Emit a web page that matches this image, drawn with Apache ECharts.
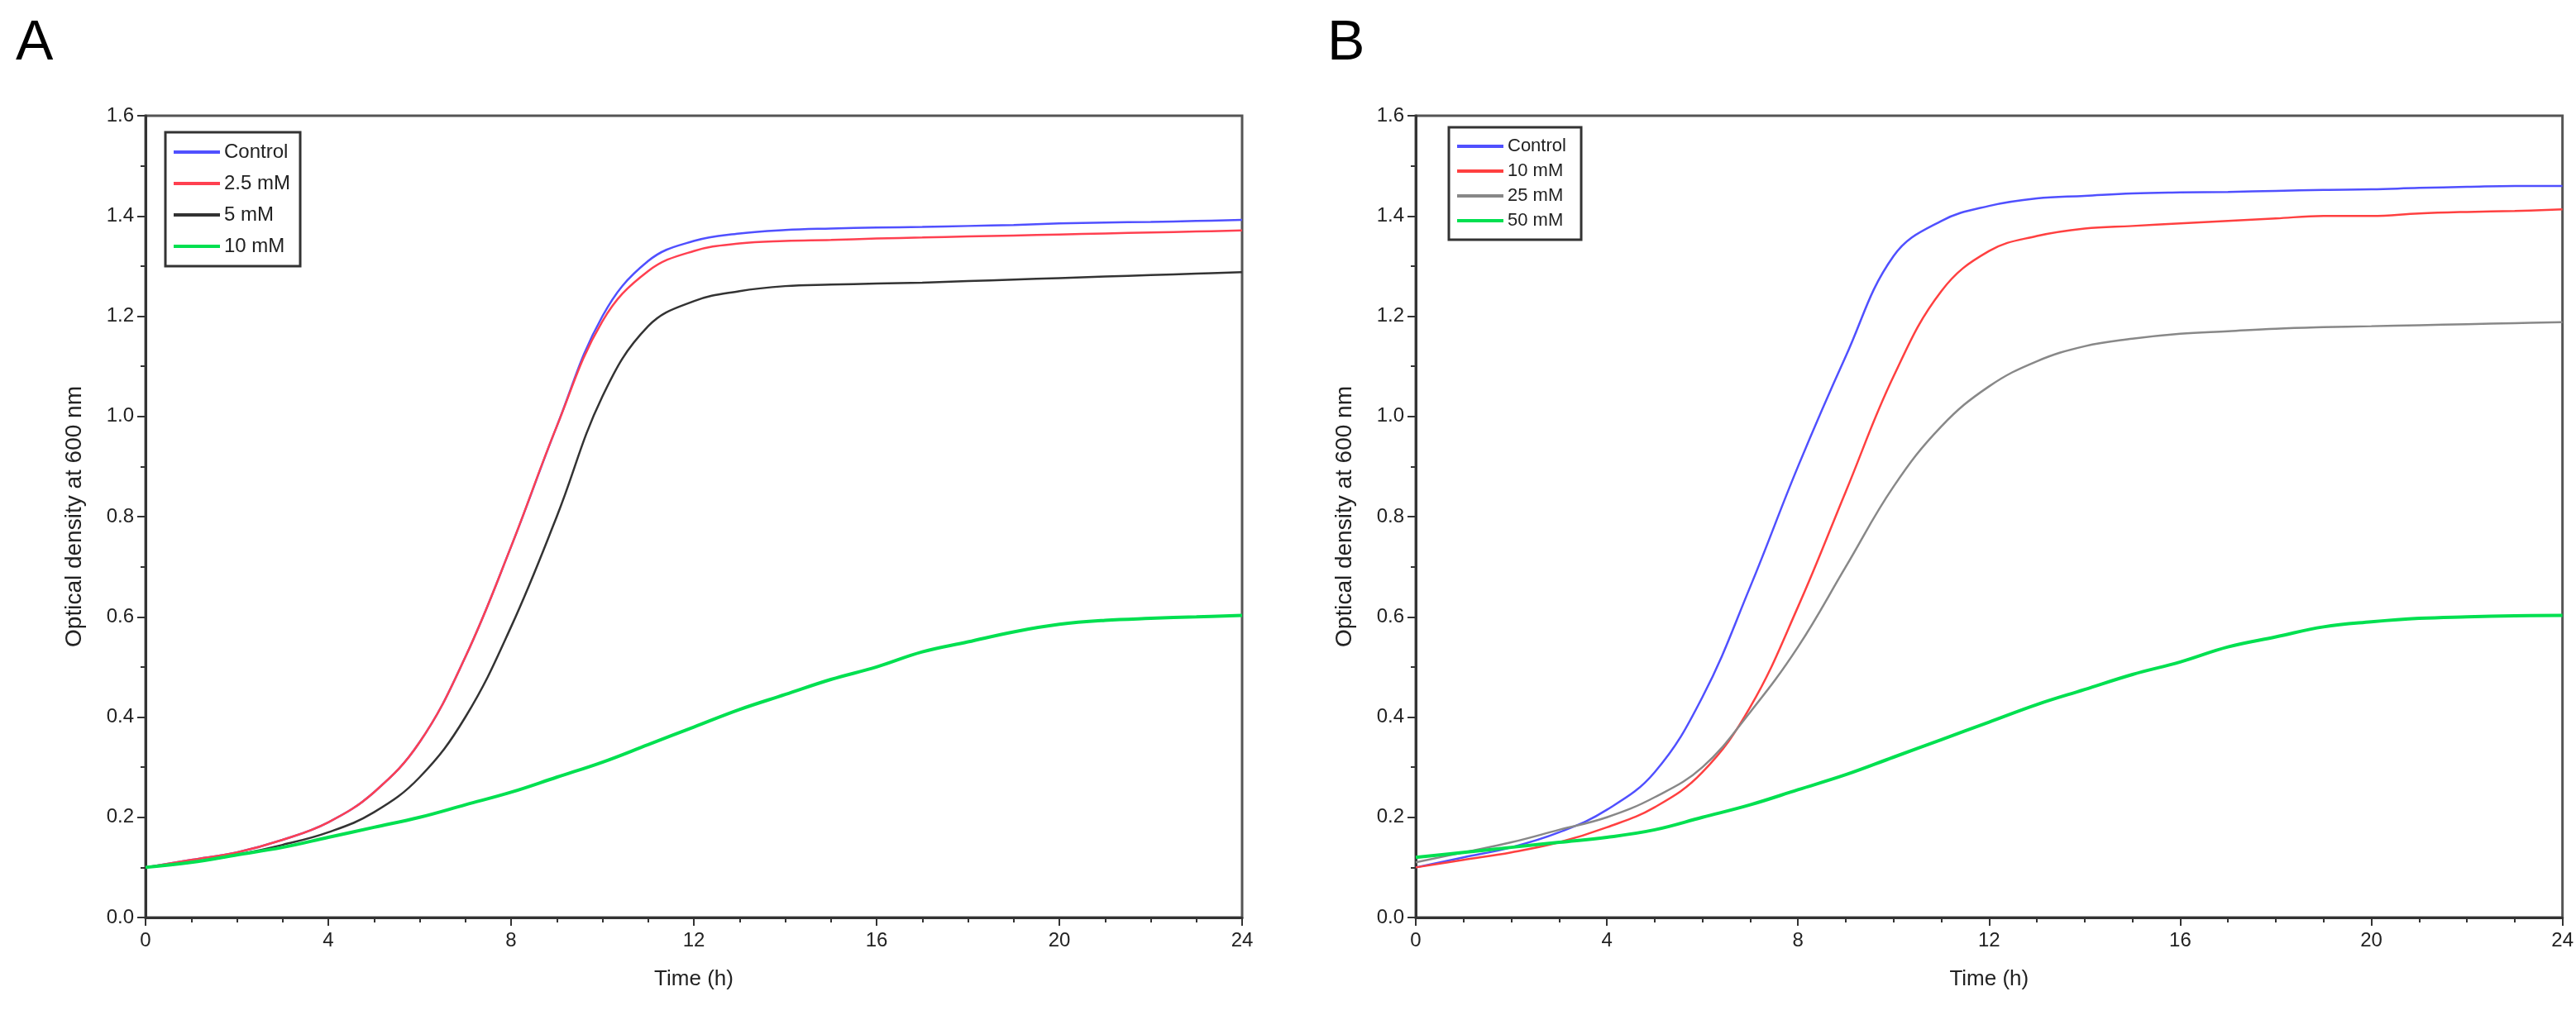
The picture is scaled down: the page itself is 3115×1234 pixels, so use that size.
<!DOCTYPE html>
<html><head><meta charset="utf-8">
<script src="https://cdn.jsdelivr.net/npm/echarts@6/dist/echarts.min.js"></script>
<style>html,body{margin:0;padding:0;background:#fff}#c{width:3115px;height:1234px}</style>
</head><body><div id="c"></div>
<script>
const time = [0,1,2,3,4,5,6,7,8,9,10,11,12,13,14,15,16,17,18,19,20,21,22,23,24];
const yTicks = [0,0.2,0.4,0.6,0.8,1.0,1.2,1.4,1.6];
const xTicks = [0,4,8,12,16,20,24];
// Panel A
const aControl = [0.10,0.115,0.13,0.155,0.19,0.25,0.35,0.52,0.74,0.98,1.20,1.31,1.35,1.365,1.372,1.375,1.377,1.378,1.38,1.382,1.385,1.387,1.388,1.39,1.392];
const a25 = [0.10,0.115,0.13,0.155,0.19,0.25,0.35,0.52,0.74,0.98,1.19,1.29,1.33,1.345,1.35,1.352,1.355,1.357,1.359,1.361,1.363,1.365,1.367,1.369,1.371];
const a5 = [0.10,0.11,0.125,0.145,0.17,0.21,0.28,0.40,0.58,0.80,1.04,1.18,1.23,1.25,1.26,1.263,1.265,1.267,1.27,1.273,1.276,1.279,1.282,1.285,1.288];
const a10 = [0.10,0.11,0.125,0.14,0.16,0.18,0.20,0.225,0.25,0.28,0.31,0.345,0.38,0.415,0.445,0.475,0.50,0.53,0.55,0.57,0.585,0.593,0.597,0.60,0.603];
// Panel B
const bControl = [0.10,0.12,0.14,0.17,0.215,0.29,0.44,0.66,0.90,1.12,1.32,1.39,1.42,1.435,1.44,1.445,1.447,1.448,1.45,1.452,1.453,1.456,1.458,1.46,1.46];
const b10 = [0.10,0.115,0.13,0.15,0.18,0.22,0.29,0.42,0.62,0.85,1.08,1.25,1.33,1.36,1.375,1.38,1.385,1.39,1.395,1.40,1.40,1.405,1.408,1.41,1.413];
const b25 = [0.11,0.13,0.15,0.175,0.20,0.24,0.30,0.41,0.54,0.70,0.86,0.98,1.06,1.11,1.14,1.155,1.165,1.17,1.175,1.178,1.18,1.182,1.184,1.186,1.188];
const b50 = [0.12,0.13,0.14,0.15,0.16,0.175,0.20,0.225,0.255,0.285,0.32,0.355,0.39,0.425,0.455,0.485,0.51,0.54,0.56,0.58,0.59,0.597,0.60,0.602,0.603];

const F = 'Liberation Sans';
const pair = arr => time.map((t,i)=>[t,arr[i]]);
function xAx(g){return {type:'value',gridIndex:g,min:0,max:24,interval:4,
  name:'Time (h)',nameLocation:'middle',nameGap:62,nameTextStyle:{fontFamily:F,fontSize:26,color:'#222'},
  axisLine:{lineStyle:{color:'#333',width:3}},axisTick:{length:10,lineStyle:{color:'#333',width:2}},
  minorTick:{show:true,splitNumber:4,length:6,lineStyle:{color:'#333',width:2}},
  axisLabel:{fontFamily:F,fontSize:24,color:'#222',margin:16},splitLine:{show:false}};}
function yAx(g){return {type:'value',gridIndex:g,min:0,max:1.6,interval:0.2,
  name:'Optical density at 600 nm',nameLocation:'middle',nameGap:72,nameTextStyle:{fontFamily:F,fontSize:28,color:'#222'},
  axisLine:{lineStyle:{color:'#333',width:3}},axisTick:{length:10,lineStyle:{color:'#333',width:2}},
  minorTick:{show:true,splitNumber:2,length:6,lineStyle:{color:'#333',width:2}},
  axisLabel:{fontFamily:F,fontSize:24,color:'#222',margin:14,formatter:v=>v.toFixed(1)},splitLine:{show:false}};}
function ser(name,data,color,g){return {name,type:'line',xAxisIndex:g,yAxisIndex:g,data:pair(data),smooth:0.4,
  showSymbol:false,lineStyle:{color,width:color==='#00e050'?4:2.5},itemStyle:{color}};}
const legBase = {orient:'vertical',itemWidth:56,itemHeight:4,itemGap:14,icon:'rect',
  borderColor:'#333',borderWidth:3,padding:[12,12,12,10],backgroundColor:'#fff',
  textStyle:{fontFamily:F,fontSize:24,color:'#222'}};
const option = {
  animation:false,
  title:[{text:'A',left:14,top:14,textStyle:{fontFamily:F,fontSize:68,fontWeight:'normal',color:'#000'}},
         {text:'B',left:1600,top:14,textStyle:{fontFamily:F,fontSize:68,fontWeight:'normal',color:'#000'}}],
  grid:[{left:176,top:140,width:1326,height:970,show:true,borderColor:'#555',borderWidth:3},
        {left:1712,top:140,width:1392,height:970,show:true,borderColor:'#555',borderWidth:3}],
  xAxis:[xAx(0),xAx(1)], yAxis:[yAx(0),yAx(1)],
  legend:[Object.assign({},legBase,{left:200,top:160,data:['Control','2.5 mM','5 mM','10 mM']}),
          Object.assign({},legBase,{left:1752,top:154,itemGap:8,data:['Control ','10 mM ','25 mM','50 mM'],textStyle:{fontFamily:F,fontSize:22,color:'#222'}})],
  series:[
    ser('Control',aControl,'#5050ff',0), ser('2.5 mM',a25,'#ff4050',0),
    ser('5 mM',a5,'#333333',0), ser('10 mM',a10,'#00e050',0),
    ser('Control ',bControl,'#5050ff',1), ser('10 mM ',b10,'#ff4040',1),
    ser('25 mM',b25,'#888888',1), ser('50 mM',b50,'#00e050',1)
  ]
};
echarts.init(document.getElementById('c')).setOption(option);
</script></body></html>
